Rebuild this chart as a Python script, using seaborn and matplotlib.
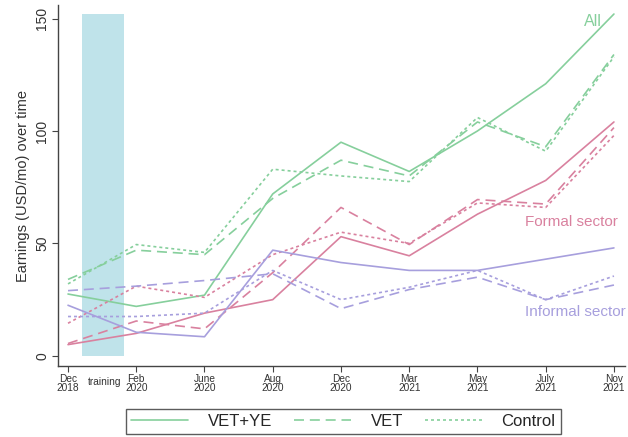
import matplotlib.pyplot as plt
from matplotlib.lines import Line2D
import seaborn as sns
import pandas as pd
import numpy as np

sns.set_theme(style="white")
plt.rcParams['font.family'] = ['Liberation Sans', 'DejaVu Sans']

# Survey rounds
periods = ['Dec\n2018', 'Feb\n2020', 'June\n2020', 'Aug\n2020', 'Dec\n2020',
           'Mar\n2021', 'May\n2021', 'July\n2021', 'Nov\n2021']

# Earnings (USD/mo)
all_vetye = [27.5, 22, 27, 72, 95, 82, 100, 121, 152]
all_vet = [34, 47, 45, 70, 87, 80, 104, 93, 134]
all_control = [32, 49.5, 46, 83, 80, 77.5, 106, 91, 133]

formal_vetye = [5, 10, 19, 25, 53, 44.5, 63, 78, 104]
formal_vet = [5.5, 15.5, 12, 37, 66, 49.5, 69.5, 67.5, 101.5]
formal_control = [14.5, 31, 26, 45, 55, 50, 68, 66, 98]

informal_vetye = [22.5, 10.5, 8.5, 47, 41.5, 38, 38, 43, 48]
informal_vet = [29, 31, 33.5, 36.5, 21, 29.5, 35, 25, 31.5]
informal_control = [17.5, 17.5, 19, 38, 25, 30.5, 38, 25, 35.5]

groups = ['VET+YE', 'VET', 'Control']
sectors = ['All', 'Formal sector', 'Informal sector']
series = {
    ('All', 'VET+YE'): all_vetye, ('All', 'VET'): all_vet, ('All', 'Control'): all_control,
    ('Formal sector', 'VET+YE'): formal_vetye, ('Formal sector', 'VET'): formal_vet,
    ('Formal sector', 'Control'): formal_control,
    ('Informal sector', 'VET+YE'): informal_vetye, ('Informal sector', 'VET'): informal_vet,
    ('Informal sector', 'Control'): informal_control,
}

rows = []
for (sec, grp), vals in series.items():
    for i, v in enumerate(vals):
        rows.append({'t': i, 'earn': v, 'sector': sec, 'group': grp})
df = pd.DataFrame(rows)

green = '#86cf9c'
pink = '#d9819f'
purple = '#a79fdd'
palette = {'All': green, 'Formal sector': pink, 'Informal sector': purple}
dashes = {'VET+YE': '', 'VET': (6, 3.5), 'Control': (1.8, 1.8)}

fig = plt.figure(figsize=(6.28, 4.37), dpi=100)
ax = fig.add_axes([0.092, 0.1625, 0.903, 0.826])

# training period
ax.fill_between([0.2, 0.82], 0, 152, color='#bfe3ea', lw=0, zorder=0)

sns.lineplot(data=df, x='t', y='earn', hue='sector', style='group',
             palette=palette, dashes=dashes, hue_order=sectors, style_order=groups,
             linewidth=1.2, legend=False, ax=ax)

ax.set_xlim(-0.15, 8.16)
ax.set_ylim(-4.5, 156)
ax.set_xticks(range(len(periods)))
ax.set_xticklabels(periods, fontsize=7.3, linespacing=0.85, color='#333333')
ax.set_yticks([0, 50, 100, 150])
ax.set_yticklabels(['0', '50', '100', '150'], rotation=90, va='center', fontsize=10, color='#333333')
ax.set_xlabel('')
ax.set_ylabel('Earnings (USD/mo) over time', fontsize=10.5, color='#333333', labelpad=4)
ax.tick_params(axis='both', which='both', direction='out', length=4, width=0.8,
               color='#444444', bottom=True, left=True, pad=2)

for s in ['top', 'right']:
    ax.spines[s].set_visible(False)
for s in ['left', 'bottom']:
    ax.spines[s].set_color('#444444')
    ax.spines[s].set_linewidth(1.0)

ax.text(0.53, -0.03, 'training', transform=ax.get_xaxis_transform(),
        ha='center', va='top', fontsize=7.3, color='#333333')

ax.text(7.83, 148.5, 'All', color=green, fontsize=11.5, ha='right', va='center')
ax.text(8.06, 59.5, 'Formal sector', color=pink, fontsize=11, ha='right', va='center')
ax.text(8.17, 19.5, 'Informal sector', color=purple, fontsize=11, ha='right', va='center')

handles = [Line2D([], [], color=green, lw=1.2, linestyle='-'),
           Line2D([], [], color=green, lw=1.2, dashes=dashes['VET']),
           Line2D([], [], color=green, lw=1.2, dashes=dashes['Control'])]
leg = fig.legend(handles, groups, loc='lower center', bbox_to_anchor=(0.547, -0.012),
                 ncol=3, frameon=True, fancybox=False, fontsize=12, handlelength=3.4,
                 columnspacing=1.3, handletextpad=1.2, borderpad=0.3)
leg.get_frame().set_edgecolor('#333333')
leg.get_frame().set_linewidth(1.0)

fig.savefig('out.png', dpi=100)
